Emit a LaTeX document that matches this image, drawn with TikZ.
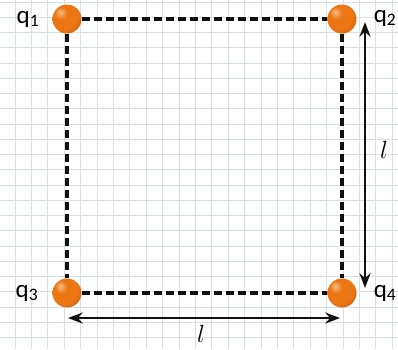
\documentclass[tikz,border=0pt]{standalone}
\usepackage{fontspec}
\setmainfont{Carlito}
\usepackage{tikz}
\usetikzlibrary{arrows.meta}
\definecolor{gLine}{HTML}{D6E1E7}
\definecolor{qHi}{HTML}{F8BE84}
\definecolor{qOrange}{HTML}{EC7614}
\definecolor{qDeep}{HTML}{A84806}
\definecolor{nInk}{HTML}{111111}
\pgfdeclareradialshading{qball}{\pgfpoint{-12bp}{12bp}}{color(0bp)=(qHi); color(11bp)=(qOrange); color(26bp)=(qOrange); color(52bp)=(qDeep); color(80bp)=(qDeep)}

\begin{document}
\begin{tikzpicture}[x=1pt, y=-1pt, >=Stealth,
          gridline/.style={gLine, line width=0.9pt},
          charge/.style={circle, minimum size=29pt, inner sep=0pt, shading=qball},
          qlabel/.style={font=\fontsize{25}{28}\selectfont, inner sep=0pt},
          side/.style={nInk, line width=3.4pt, dash pattern=on 8pt off 4pt},
          dim/.style={<->, nInk, line width=2.6pt},
          dimlabel/.style={font=\fontsize{29}{31}\selectfont, inner sep=0pt}]
        \useasboundingbox (0,0) rectangle (398,349);
        \fill[white] (0,0) rectangle (398,349);
        \foreach \i in {0,...,23}
          \draw[gridline] ({15+16.4*\i},0) -- ({15+16.4*\i},349);
        \foreach \j in {0,...,22}
          \draw[gridline] (0,{2+15.25*\j}) -- (398,{2+15.25*\j});
        \node[charge] (q1) at (67,19) {};
        \node[charge] (q2) at (342,19) {};
        \node[charge] (q3) at (67,293) {};
        \node[charge] (q4) at (342,293) {};
        \draw[side] (q1) -- (q2);
        \draw[side] (q1) -- (q3);
        \draw[side] (q3) -- (q4);
        \draw[side] (q2) -- (q4);
        \node[qlabel] (l1) at (28,19) {q\textsubscript{1}};
        \node[qlabel] (l2) at (385,18) {q\textsubscript{2}};
        \node[qlabel] (l3) at (27,293) {q\textsubscript{3}};
        \node[qlabel] (l4) at (385,293) {q\textsubscript{4}};
        \coordinate (vt) at (365,22);
        \coordinate (vb) at (365,288);
        \coordinate (hl) at (68,318);
        \coordinate (hr) at (340,318);
        \draw[dim] (vt) -- (vb);
        \draw[dim] (hl) -- (hr);
        \node[dimlabel] (lv) at (384,150) {$l$};
        \node[dimlabel] (lh) at (201,334) {$l$};
      \end{tikzpicture}
\end{document}
